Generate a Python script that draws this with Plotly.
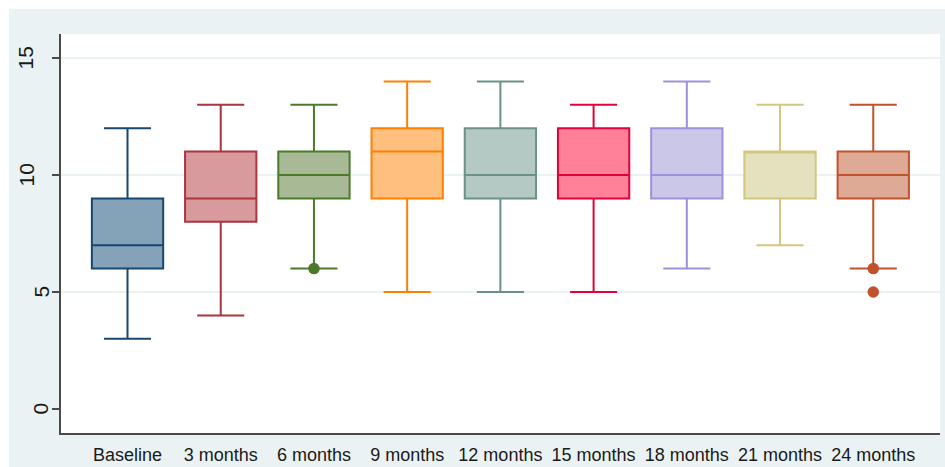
import plotly.graph_objects as go

categories = ["Baseline", "3 months", "6 months", "9 months", "12 months",
              "15 months", "18 months", "21 months", "24 months"]
lower = [3, 4, 6, 5, 5, 5, 6, 7, 6]
q1 = [6, 8, 9, 9, 9, 9, 9, 9, 9]
median = [7, 9, 10, 11, 10, 10, 10, 11, 10]
q3 = [9, 11, 11, 12, 12, 12, 12, 11, 11]
upper = [12, 13, 13, 14, 14, 13, 14, 13, 13]
outliers = {"6 months": [6], "24 months": [6, 5]}
line_colors = ["#1A476F", "#A8353F", "#4B7A2A", "#FF8000", "#6A9288",
               "#E4003A", "#9E91DC", "#D3C67E", "#C0522C"]
fill_colors = ["#84A3B8", "#D99A9E", "#A7BA95", "#FFBF7F", "#B4C9C3",
               "#FF8099", "#CBC7E9", "#E5E1BE", "#DFAA95"]
y_ticks = [0, 5, 10, 15]
grid_vals = [5, 10, 15]

fig = go.Figure()
for i, c in enumerate(categories):
    fig.add_trace(go.Box(
        x=[c], q1=[q1[i]], median=[median[i]], q3=[q3[i]],
        lowerfence=[lower[i]], upperfence=[upper[i]],
        width=0.765, whiskerwidth=0.66,
        fillcolor=fill_colors[i],
        line=dict(color=line_colors[i], width=2),
        boxpoints=False, showlegend=False, hoverinfo="skip",
    ))
    if c in outliers:
        fig.add_trace(go.Scatter(
            x=[c] * len(outliers[c]), y=outliers[c], mode="markers",
            marker=dict(color=line_colors[i], size=11.5),
            showlegend=False, hoverinfo="skip",
        ))

BG = "#EAF2F3"
W, H = 945, 467
L, R, T, B = 61, 5, 34, 34
pw, ph = W - L - R, H - T - B

def px_x(p):
    return (p - L) / pw

def px_y(p):
    return (H - B - p) / ph

shapes = [
    dict(type="rect", xref="paper", yref="paper", layer="below",
         x0=px_x(9), x1=px_x(W + 5), y0=px_y(H + 5), y1=px_y(9),
         fillcolor=BG, line=dict(width=0)),
    dict(type="rect", xref="paper", yref="paper", layer="below",
         x0=0, x1=1, y0=0, y1=1, fillcolor="white", line=dict(width=0)),
]
for g in grid_vals:
    shapes.append(dict(type="line", xref="paper", yref="y", layer="below",
                       x0=0, x1=1, y0=g, y1=g,
                       line=dict(color="#E3EEF0", width=1.5)))

annotations = []
for t in y_ticks:
    s = str(t)
    annotations.append(dict(
        xref="paper", yref="y", x=0, y=t, text=s, showarrow=False,
        textangle=-90, xanchor="center", yanchor="middle",
        xshift=-20.5 - 15 * (len(s) - 1),
        font=dict(family="Liberation Sans, Arial, sans-serif", size=21,
                  color="#1a1a1a"),
    ))

fig.update_layout(
    width=W, height=H,
    margin=dict(l=L, r=R, t=T, b=B, pad=0, autoexpand=False),
    paper_bgcolor="white", plot_bgcolor="rgba(0,0,0,0)",
    boxmode="overlay",
    shapes=shapes, annotations=annotations,
    xaxis=dict(
        type="category", categoryorder="array", categoryarray=categories,
        range=[-0.7135, 8.716], showgrid=False, zeroline=False,
        automargin=False,
        showline=True, linecolor="#4a4a4a", linewidth=1.5,
        ticks="outside", ticklen=5, tickcolor="rgba(0,0,0,0)",
        tickfont=dict(family="Liberation Sans, Arial, sans-serif", size=18,
                      color="#1a1a1a"),
    ),
    yaxis=dict(
        range=[-1.026, 16.026], tickvals=y_ticks, showticklabels=False,
        showgrid=False, zeroline=False, automargin=False,
        showline=True, linecolor="#4a4a4a", linewidth=1.5,
        ticks="outside", ticklen=7, tickcolor="#4a4a4a", tickwidth=1.5,
    ),
)

fig.write_html("out.html")
